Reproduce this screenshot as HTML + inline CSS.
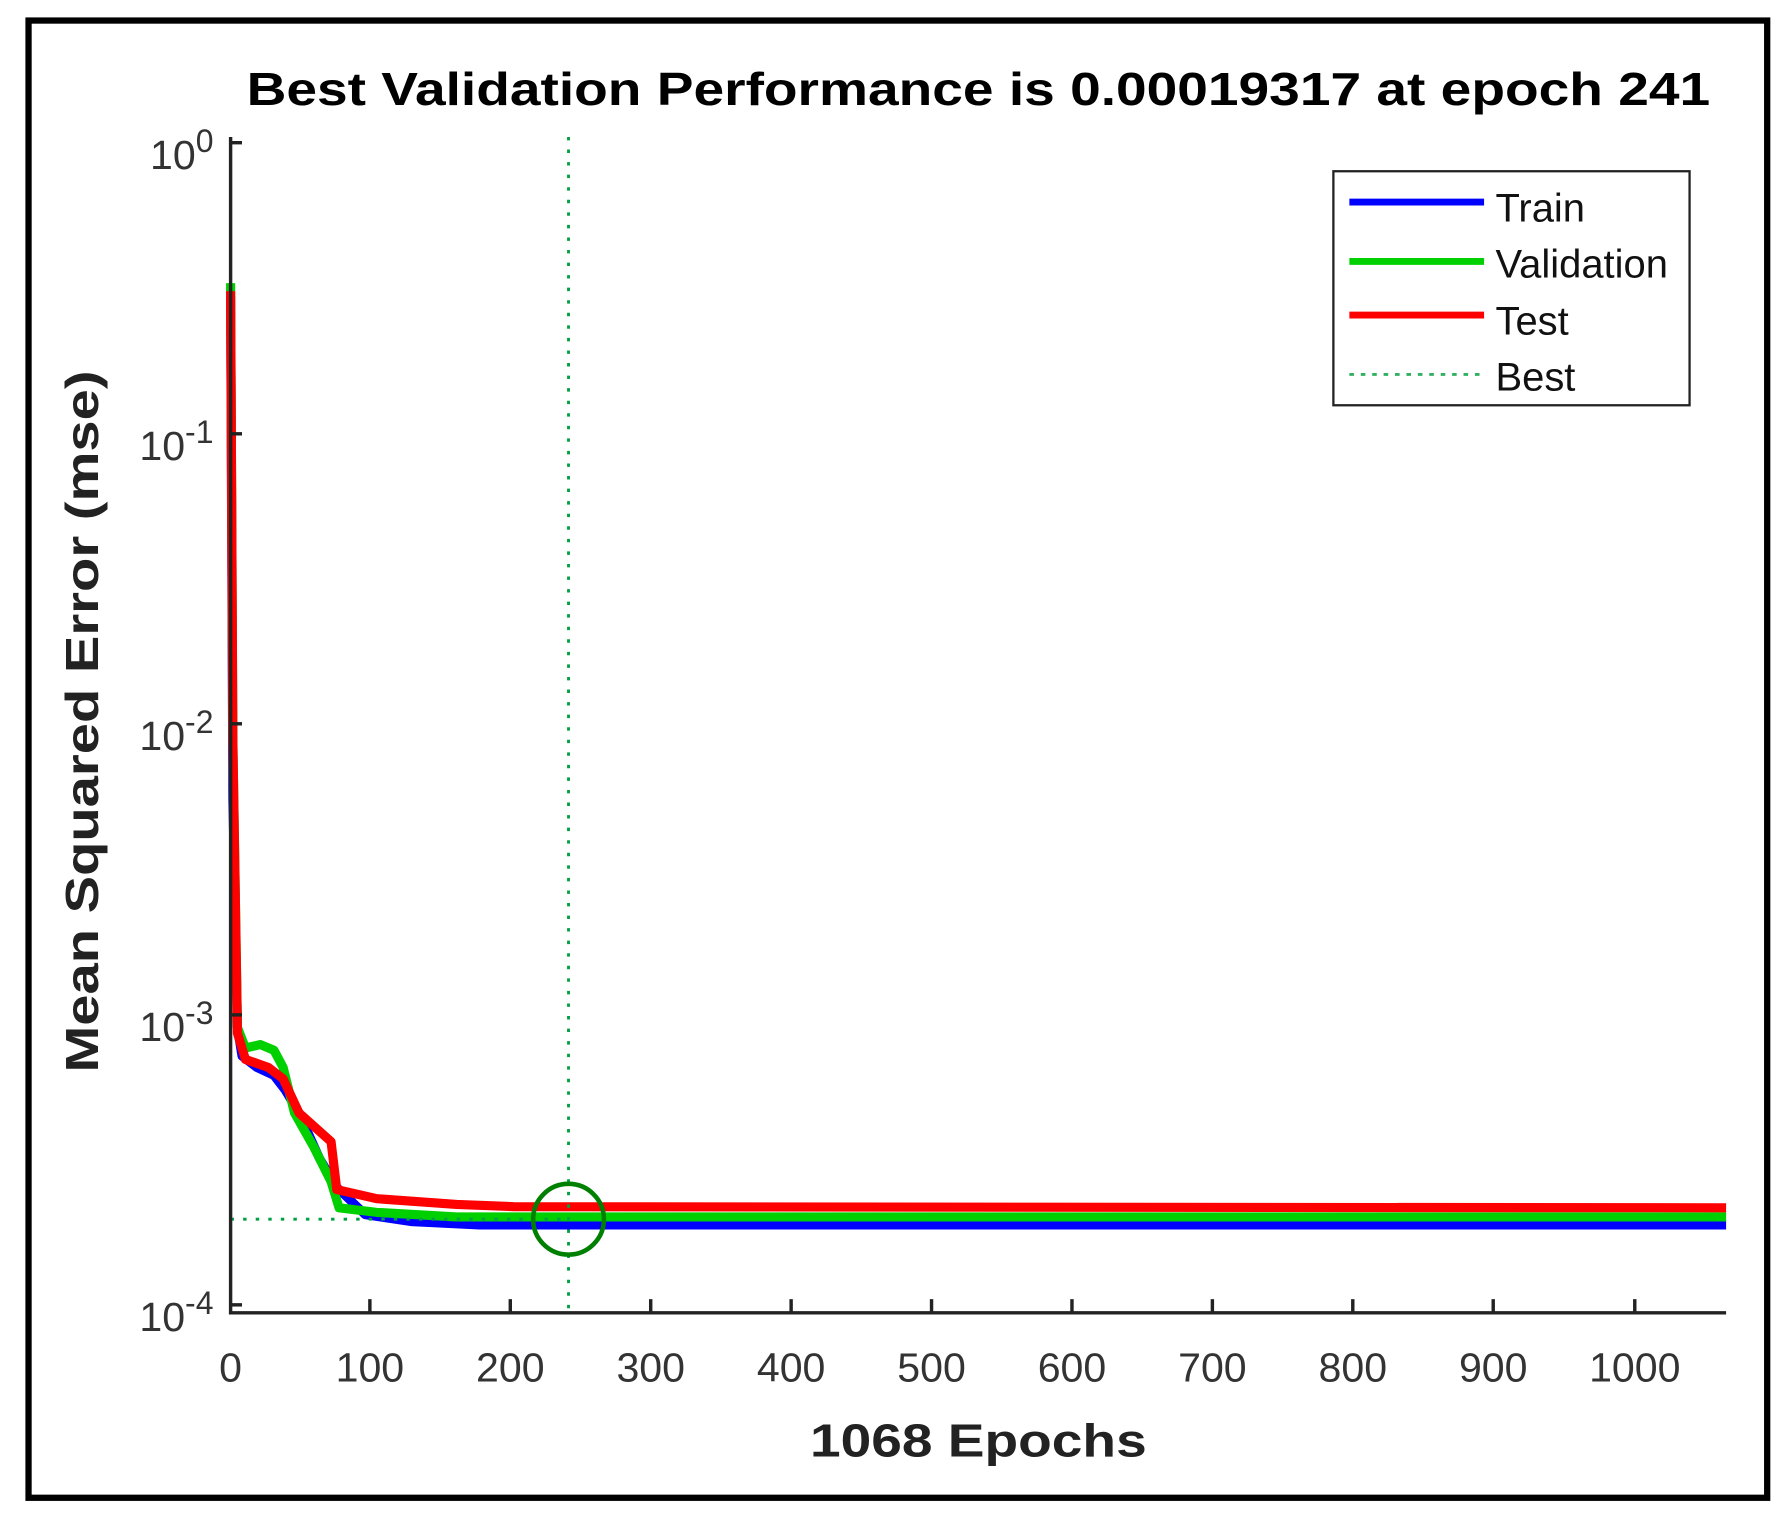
<!DOCTYPE html>
<html><head><meta charset="utf-8"><style>html,body{margin:0;padding:0;background:#fff}svg{display:block}</style></head>
<body>
<svg width="1790" height="1530" viewBox="0 0 1790 1530" xmlns="http://www.w3.org/2000/svg" font-family="Liberation Sans, Arial, sans-serif">
<rect width="1790" height="1530" fill="#fff"/>
<g transform="scale(1.1416)">
  <rect x="25" y="18" width="1523" height="1294" fill="none" stroke="#000" stroke-width="5.5"/>
  <text x="857" y="92" text-anchor="middle" font-size="41" font-weight="bold" textLength="1282" lengthAdjust="spacingAndGlyphs">Best Validation Performance is 0.00019317 at epoch 241</text>
  <g fill="none" stroke-width="8" stroke-linejoin="round">
    <path stroke="#0000ff" d="M202,260 L204,700 L208,900 L212,925 L225,935 L240,942 L250,955 L262,975 L280,1015 L295,1040 L320,1064 L360,1070 L420,1073 L1512,1073"/>
    <path stroke="#00d000" d="M202,248 L204,650 L208,900 L215,918 L228,915 L240,920 L248,935 L258,975 L275,1005 L290,1035 L297,1058 L330,1062 L400,1066 L1512,1066"/>
    <path stroke="#ff0000" d="M202,255 L204,650 L208,905 L215,928 L235,935 L248,945 L262,975 L290,1000 L295,1042 L330,1050 L400,1055 L450,1057 L1512,1058"/>
  </g>
  <g stroke="#00a040" stroke-width="2.5" stroke-dasharray="3,8">
    <line x1="498" y1="120" x2="498" y2="1150"/>
    <line x1="202" y1="1068" x2="498" y2="1068"/>
  </g>
  <circle cx="498" cy="1068" r="31" fill="none" stroke="#008000" stroke-width="4"/>
  <g stroke="#222" stroke-width="3" fill="none">
    <polyline points="202,120 202,1150 1512,1150"/>
    <line x1="202" y1="125" x2="212" y2="125"/>
    <line x1="202" y1="380" x2="212" y2="380"/>
    <line x1="202" y1="634" x2="212" y2="634"/>
    <line x1="202" y1="889" x2="212" y2="889"/>
    <line x1="202" y1="1143" x2="212" y2="1143"/>
    <line x1="324" y1="1150" x2="324" y2="1138"/>
    <line x1="447" y1="1150" x2="447" y2="1138"/>
    <line x1="570" y1="1150" x2="570" y2="1138"/>
    <line x1="693" y1="1150" x2="693" y2="1138"/>
    <line x1="816" y1="1150" x2="816" y2="1138"/>
    <line x1="939" y1="1150" x2="939" y2="1138"/>
    <line x1="1062" y1="1150" x2="1062" y2="1138"/>
    <line x1="1185" y1="1150" x2="1185" y2="1138"/>
    <line x1="1308" y1="1150" x2="1308" y2="1138"/>
    <line x1="1432" y1="1150" x2="1432" y2="1138"/>
  </g>
  <g font-size="36" fill="#333" text-anchor="middle">
    <text x="202" y="1210">0</text><text x="324" y="1210">100</text><text x="447" y="1210">200</text>
    <text x="570" y="1210">300</text><text x="693" y="1210">400</text><text x="816" y="1210">500</text>
    <text x="939" y="1210">600</text><text x="1062" y="1210">700</text><text x="1185" y="1210">800</text>
    <text x="1308" y="1210">900</text><text x="1432" y="1210">1000</text>
  </g>
  <g font-size="36" fill="#333" text-anchor="end">
    <text x="187" y="148">10<tspan dy="-15" font-size="28">0</tspan></text>
    <text x="187" y="403">10<tspan dy="-15" font-size="28">-1</tspan></text>
    <text x="187" y="657">10<tspan dy="-15" font-size="28">-2</tspan></text>
    <text x="187" y="912">10<tspan dy="-15" font-size="28">-3</tspan></text>
    <text x="187" y="1166">10<tspan dy="-15" font-size="28">-4</tspan></text>
  </g>
  <text x="857" y="1276" text-anchor="middle" font-size="41" font-weight="bold" fill="#222" textLength="295" lengthAdjust="spacingAndGlyphs">1068 Epochs</text>
  <text transform="translate(86,632) rotate(-90)" text-anchor="middle" font-size="41" font-weight="bold" fill="#222" textLength="615" lengthAdjust="spacingAndGlyphs">Mean Squared Error  (mse)</text>
  <rect x="1168" y="150" width="312" height="205" fill="#fff" stroke="#222" stroke-width="2"/>
  <g stroke-width="6">
    <line x1="1182" y1="177" x2="1300" y2="177" stroke="#0000ff"/>
    <line x1="1182" y1="229" x2="1300" y2="229" stroke="#00d000"/>
    <line x1="1182" y1="276" x2="1300" y2="276" stroke="#ff0000"/>
  </g>
  <line x1="1182" y1="328" x2="1296" y2="328" stroke="#30b060" stroke-width="2.5" stroke-dasharray="4,6"/>
  <g font-size="35" fill="#111">
    <text x="1310" y="194">Train</text>
    <text x="1310" y="243">Validation</text>
    <text x="1310" y="293">Test</text>
    <text x="1310" y="342">Best</text>
  </g>
</g>
</svg>
</body></html>
